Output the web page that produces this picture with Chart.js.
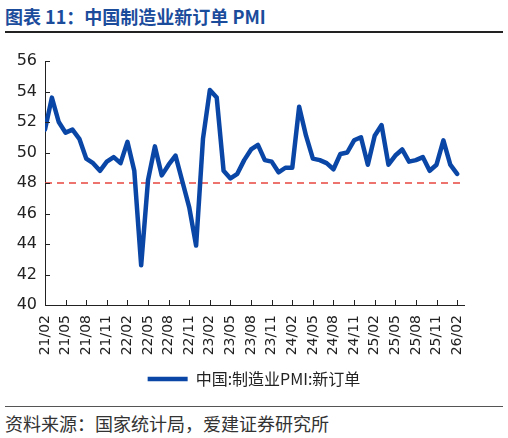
<!DOCTYPE html>
<html>
<head>
<meta charset="utf-8">
<script src="https://cdn.jsdelivr.net/npm/chart.js@4"></script>
<style>
  html, body { margin: 0; padding: 0; background: #fff; }
  body { width: 508px; height: 438px; position: relative; overflow: hidden;
    font-family: 'Noto Sans CJK SC', 'Noto Sans', sans-serif; }
  #title { position: absolute; left: 5px; top: 3px; font-size: 18px; font-weight: bold;
    color: #1b4c9c; white-space: nowrap; }
  #rule-top { position: absolute; left: 5px; top: 31px; width: 498px; height: 2px; background: #222; }
  #rule-bottom { position: absolute; left: 5px; top: 406px; width: 498px; height: 1px; background: #555; }
  #source { position: absolute; left: 5px; top: 410px; font-size: 18px; color: #333; white-space: nowrap; }
  #chart { position: absolute; left: 0; top: 40px; }
</style>
</head>
<body>
<div id="title">图表 11：中国制造业新订单 PMI</div>
<div id="rule-top"></div>
<canvas id="chart" width="508" height="357" style="width:508px;height:357px"></canvas>
<div id="rule-bottom"></div>
<div id="source">资料来源：国家统计局，爱建证券研究所</div>

<script>
// monthly, 21/02 .. 26/02
const newOrders = [
  51.5, 53.6, 52.0, 51.3, 51.5, 50.9, 49.6, 49.3, 48.8, 49.4, 49.7,
  49.3, 50.7, 48.8, 42.6, 48.2, 50.4, 48.5, 49.2, 49.8, 48.1, 46.4, 43.9,
  50.9, 54.1, 53.6, 48.8, 48.3, 48.6, 49.5, 50.2, 50.5, 49.5, 49.4, 48.7,
  49.0, 49.0, 53.0, 51.1, 49.6, 49.5, 49.3, 48.9, 49.9, 50.0, 50.8, 51.0,
  49.2, 51.1, 51.8, 49.2, 49.8, 50.2, 49.4, 49.5, 49.7, 48.8, 49.2, 50.8,
  49.2, 48.6
];
const tickLabels = [
  '21/02', '21/05', '21/08', '21/11', '22/02', '22/05', '22/08', '22/11',
  '23/02', '23/05', '23/08', '23/11', '24/02', '24/05', '24/08', '24/11',
  '25/02', '25/05', '25/08', '25/11', '26/02'
];
const refLevel = 48;
const seriesName = '中国:制造业PMI:新订单';

const linePoints = newOrders.map((v, i) => ({ x: i, y: v }));
const refPoints = [{ x: 0, y: refLevel }, { x: 61, y: refLevel }];

// inward tick marks on both axes
const innerTicks = {
  id: 'innerTicks',
  afterDatasetsDraw(chart) {
    const ctx = chart.ctx;
    const { x, y } = chart.scales;
    ctx.save();
    ctx.strokeStyle = '#222';
    ctx.lineWidth = 1;
    ctx.beginPath();
    x.ticks.forEach((t) => {
      const px = Math.round(x.getPixelForValue(t.value)) + 0.5;
      ctx.moveTo(px, y.bottom);
      ctx.lineTo(px, y.bottom - 5);
    });
    y.ticks.forEach((t) => {
      const py = Math.round(y.getPixelForValue(t.value)) + 0.5;
      ctx.moveTo(x.left, py);
      ctx.lineTo(x.left + 5, py);
    });
    ctx.stroke();
    ctx.restore();
  }
};

new Chart(document.getElementById('chart'), {
  type: 'line',
  data: {
    datasets: [
      {
        label: seriesName,
        data: linePoints,
        borderColor: '#0a46a6',
        backgroundColor: '#0a46a6',
        borderWidth: 4.5,
        pointRadius: 0,
        tension: 0,
        borderJoinStyle: 'round',
        borderCapStyle: 'round'
      },
      {
        label: 'ref',
        data: refPoints,
        borderColor: '#e8473f',
        borderWidth: 1.5,
        borderDash: [7, 5],
        pointRadius: 0
      }
    ]
  },
  options: {
    responsive: false,
    animation: false,
    layout: { padding: { top: 21, right: 0, left: 0, bottom: 0 } },
    plugins: {
      legend: {
        position: 'bottom',
        labels: {
          filter: (item) => item.text !== 'ref',
          usePointStyle: true,
          pointStyle: 'line',
          pointStyleWidth: 40,
          boxWidth: 40,
          color: '#222',
          font: { family: "'Noto Sans CJK SC', sans-serif", size: 16 },
          padding: 10
        }
      },
      tooltip: { enabled: false }
    },
    scales: {
      x: {
        type: 'linear',
        min: 0,
        max: 61,
        grid: { display: false, drawTicks: false },
        border: { display: true, color: '#222', width: 1 },
        afterFit: (s) => { s.height = 56; },
        ticks: {
          stepSize: 3,
          includeBounds: false,
          autoSkip: false,
          minRotation: 90,
          maxRotation: 90,
          padding: 10,
          color: '#222',
          font: { family: "'DejaVu Sans', sans-serif", size: 14 },
          callback: (v) => tickLabels[v / 3]
        }
      },
      y: {
        min: 40,
        max: 56,
        grid: { display: false, drawTicks: false },
        border: { display: true, color: '#222', width: 1 },
        afterFit: (s) => { s.width = 45; },
        ticks: {
          stepSize: 2,
          padding: 8,
          color: '#222',
          font: { family: "'DejaVu Sans', sans-serif", size: 16 }
        }
      },
      // empty right gutter so the legend centres under the plot
      gutter: {
        position: 'right',
        grid: { display: false, drawTicks: false },
        border: { display: false },
        ticks: { display: false },
        afterFit: (s) => { s.width = 44; }
      }
    }
  },
  plugins: [innerTicks]
});
</script>
</body>
</html>
